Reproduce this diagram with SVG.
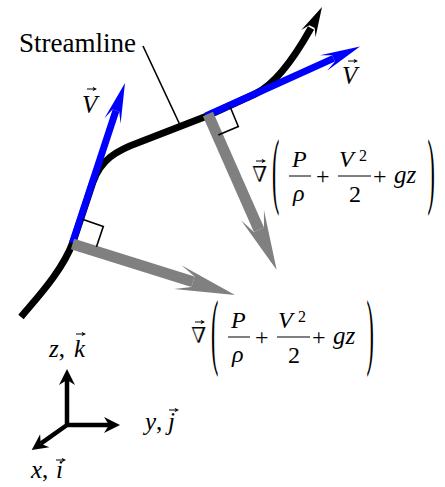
<svg xmlns="http://www.w3.org/2000/svg" xmlns:xlink="http://www.w3.org/1999/xlink" width="445" height="487" viewBox="0 0 445 487" font-family="'Liberation Serif', 'Times New Roman', serif">
<style>
text{font-family:'Liberation Serif','Times New Roman',serif;fill:#000}
.i{font-style:italic}
.sym{font-family:'DejaVu Serif','Liberation Serif',serif;stroke:#fff;stroke-width:0.3}
.thin{fill:none;stroke:#000;stroke-width:1.6}
.acc{fill:none;stroke:#000;stroke-width:1}
.blue{fill:#0000ff}
.gray{fill:#808080}
.blk{fill:#000}
.axis{fill:none;stroke:#000;stroke-width:4.5}
</style>
<defs>
<g id="vec"><path d="M0,0 H8" class="acc"/><polygon points="10,0 5.5,-2.3 6.8,0 5.5,2.3" class="blk"/></g>
</defs>
<rect width="445" height="487" fill="#fff"/>

<g id="streamline">
<path d="M21,317 C35,300 62,272 73,242 L93,182 C101,160 115,151 140,142 L207,116 L255,94 C272,86 292,62 311,28" fill="none" stroke="#000" stroke-width="7"/>
<g transform="translate(322,7) rotate(-63)"><polygon points="0,0 -30,-8 -22,-3 -22,3 -30,8" class="blk"/></g>
<path d="M143,46 L180,125" class="thin"/>
<text x="19" y="52" font-size="27">Streamline</text>
</g>

<g id="connectors">
<g id="velocity1" transform="translate(125,83) rotate(-71.8)">
<rect x="-168.4" y="-3.5" width="139.4" height="7" class="blue"/>
<polygon points="0,0 -40,-8.5 -29,-3.5 -29,3.5 -40,8.5" class="blue"/>
</g>
<g id="velocity2" transform="translate(360,46.5) rotate(-24.3)">
<rect x="-169" y="-3.5" width="140" height="7" class="blue"/>
<polygon points="0,0 -40,-8.5 -29,-3.5 -29,3.5 -40,8.5" class="blue"/>
</g>
<g id="gradient1" transform="translate(235,295) rotate(17.4)">
<rect x="-170.3" y="-5.5" width="126.3" height="11" class="gray"/>
<polygon points="0,0 -60,-12.5 -44,-5.5 -44,5.5 -60,12.5" class="gray"/>
</g>
<g id="gradient2" transform="translate(276.7,270) rotate(66.2)">
<rect x="-170.5" y="-5.5" width="126.5" height="11" class="gray"/>
<polygon points="0,0 -60,-12.5 -44,-5.5 -44,5.5 -60,12.5" class="gray"/>
</g>
<path d="M81.7,219 L103.3,226.5 L96.5,246.7" class="thin"/>
<path d="M230,106.5 L238.3,126.5 L218.3,135" class="thin"/>
</g>

<g id="labelV1">
<text class="i" x="82" y="113" font-size="25">V</text>
<use xlink:href="#vec" x="87" y="89"/>
</g>
<g id="labelV2">
<text class="i" x="342" y="83.5" font-size="25">V</text>
<use xlink:href="#vec" x="348" y="61"/>
</g>

<g id="formula1" transform="translate(61,-161)">
<text class="sym" x="191" y="343" font-size="22">∇</text>
<use xlink:href="#vec" x="195" y="322"/>
<text font-size="22" transform="translate(211,358.5) scale(1,3.8)">(</text>
<text class="i" x="231" y="328" font-size="24">P</text>
<path d="M228,337 H250" class="acc"/>
<text class="i" x="232" y="362" font-size="24">ρ</text>
<text x="255" y="345" font-size="24">+</text>
<text class="i" x="278" y="328" font-size="24">V</text>
<text x="298" y="322" font-size="16">2</text>
<path d="M277,337 H310" class="acc"/>
<text x="288" y="363" font-size="24">2</text>
<text x="312" y="345" font-size="24">+</text>
<text class="i" x="333" y="344" font-size="25">gz</text>
<text font-size="22" transform="translate(366.5,358.5) scale(1,3.8)">)</text>
</g>

<g id="formula2">
<text class="sym" x="191" y="343" font-size="22">∇</text>
<use xlink:href="#vec" x="195" y="322"/>
<text font-size="22" transform="translate(211,358.5) scale(1,3.8)">(</text>
<text class="i" x="231" y="328" font-size="24">P</text>
<path d="M228,337 H250" class="acc"/>
<text class="i" x="232" y="362" font-size="24">ρ</text>
<text x="255" y="345" font-size="24">+</text>
<text class="i" x="278" y="328" font-size="24">V</text>
<text x="298" y="322" font-size="16">2</text>
<path d="M277,337 H310" class="acc"/>
<text x="288" y="363" font-size="24">2</text>
<text x="312" y="345" font-size="24">+</text>
<text class="i" x="333" y="344" font-size="25">gz</text>
<text font-size="22" transform="translate(366.5,358.5) scale(1,3.8)">)</text>
</g>

<g id="axes">
<path d="M67,380 V425 H109 M67,425 L40.7,443.6" class="axis"/>
<g transform="translate(67,369) rotate(-90)"><polygon points="0,0 -16,-8 -11,0 -16,8" class="blk"/></g>
<g transform="translate(120,425)"><polygon points="0,0 -16,-8 -11,0 -16,8" class="blk"/></g>
<g transform="translate(31.7,450) rotate(144.7)"><polygon points="0,0 -16,-8 -11,0 -16,8" class="blk"/></g>
<text x="49" y="357" font-size="25"><tspan class="i">z</tspan>,</text>
<text class="i" x="74" y="357" font-size="25">k</text>
<use xlink:href="#vec" x="76" y="334"/>
<text x="145" y="430" font-size="25"><tspan class="i">y</tspan>,</text>
<text class="i" x="168" y="430" font-size="25">j</text>
<use xlink:href="#vec" x="169" y="410"/>
<text x="31" y="478" font-size="25"><tspan class="i">x</tspan>,</text>
<text class="i" x="56" y="478" font-size="25">i</text>
<use xlink:href="#vec" x="56" y="460"/>
</g>
</svg>
